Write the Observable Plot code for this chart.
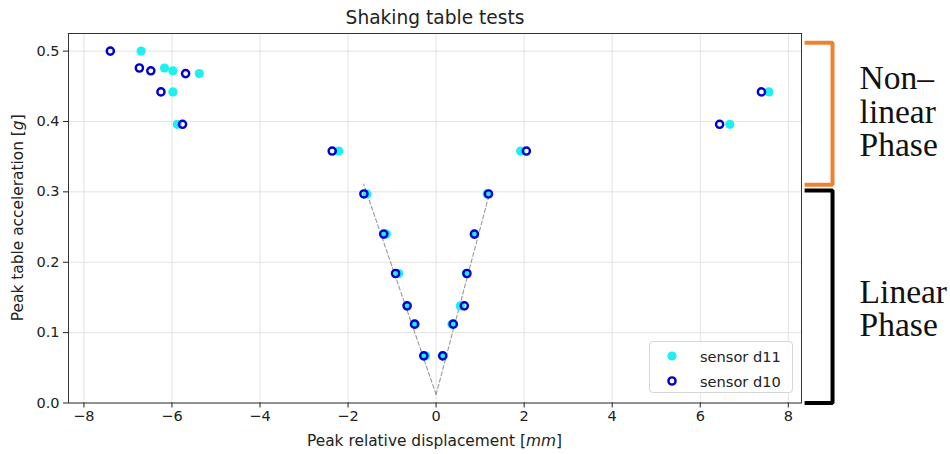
<!DOCTYPE html>
<html>
<head>
<meta charset="utf-8">
<script src="https://cdn.jsdelivr.net/npm/d3@7"></script>
<script src="https://cdn.jsdelivr.net/npm/@observablehq/plot@0.6"></script>
<style>
  html, body { margin: 0; padding: 0; background: #fff; }
  #wrap { position: relative; width: 950px; height: 454px; }
  #legend {
    position: absolute; left: 649px; top: 341px; width: 144px; height: 52px;
    border: 1px solid #d6d6d6; border-radius: 4px; background: rgba(255,255,255,0.85);
    font-family: "DejaVu Sans", sans-serif; font-size: 14.6px; color: #222;
    box-sizing: border-box;
  }
  #legend .row { position: absolute; left: 0; height: 20px; display: flex; align-items: center; }
  #legend svg { position: absolute; left: 14px; }
  #legend span { position: absolute; left: 50px; white-space: nowrap; }
</style>
</head>
<body>
<div id="wrap"></div>
<script>
// ---- data ----
const titleText = "Shaking table tests";
const xTicks = [-8, -6, -4, -2, 0, 2, 4, 6, 8];
const yTicks = [0, 0.1, 0.2, 0.3, 0.4, 0.5];

const accelD11 = [0.5, 0.476, 0.472, 0.468, 0.442, 0.396, 0.358, 0.297, 0.240, 0.184, 0.138, 0.112, 0.067,
                  0.067, 0.112, 0.138, 0.184, 0.240, 0.297, 0.358, 0.396, 0.442];
const dispD11  = [-6.70, -6.17, -5.98, -5.38, -5.98, -5.88, -2.21, -1.57, -1.13, -0.85, -0.65, -0.47, -0.24,
                  0.16, 0.36, 0.55, 0.69, 0.87, 1.16, 1.92, 6.67, 7.56];

const accelD10 = [0.5, 0.476, 0.472, 0.468, 0.442, 0.396, 0.358, 0.297, 0.240, 0.184, 0.138, 0.112, 0.067,
                  0.067, 0.112, 0.138, 0.184, 0.240, 0.297, 0.358, 0.396, 0.442];
const dispD10  = [-7.40, -6.74, -6.48, -5.69, -6.25, -5.76, -2.36, -1.64, -1.19, -0.92, -0.66, -0.49, -0.28,
                  0.15, 0.39, 0.64, 0.70, 0.87, 1.19, 2.05, 6.44, 7.39];

// linear-phase trend lines (dashed)
const fitLeftX = [0, -1.645], fitLeftY = [0.012, 0.311];
const fitRightX = [0, 1.23],  fitRightY = [0.012, 0.302];

// phase brackets
const phaseNames = ["Non–\nlinear\nPhase", "Linear\nPhase"];
const phaseTop = [0.512, 0.302];
const phaseBottom = [0.310, 0.0];
const phaseLabelY = [0.4135, 0.134];
const phaseColors = ["#EE8233", "#000000"];

const seriesNames = ["sensor d11", "sensor d10"];
const colD11 = "#1ef0f0", colD10 = "#0000CD";

// ---- build tables ----
const d11 = dispD11.map((x, i) => ({x, y: accelD11[i]}));
const d10 = dispD10.map((x, i) => ({x, y: accelD10[i]}));
const fitL = fitLeftX.map((x, i) => ({x, y: fitLeftY[i]}));
const fitR = fitRightX.map((x, i) => ({x, y: fitRightY[i]}));
const bx0 = 8.37, bx1 = 9.005, labelX = 9.62;
const brackets = phaseNames.map((n, i) => [
  {x: bx0, y: phaseTop[i], k: i}, {x: bx1, y: phaseTop[i], k: i},
  {x: bx1, y: phaseBottom[i], k: i}, {x: bx0, y: phaseBottom[i], k: i}
]);
const phaseLabels = phaseNames.map((t, i) => ({t, x: labelX, y: phaseLabelY[i]}));

const chart = Plot.plot({
  width: 950, height: 454,
  marginLeft: 68, marginRight: 149, marginTop: 33, marginBottom: 51.5,
  style: {fontFamily: "DejaVu Sans, sans-serif", fontSize: "14.5px", color: "#222", background: "#fff"},
  x: {domain: [-8.35, 8.30]},
  y: {domain: [0, 0.525]},
  marks: [
    Plot.gridX(xTicks, {stroke: "#dcdcdc", strokeOpacity: 1, strokeWidth: 0.8}),
    Plot.gridY(yTicks, {stroke: "#dcdcdc", strokeOpacity: 1, strokeWidth: 0.8}),
    Plot.line(fitL, {x: "x", y: "y", stroke: "#9a9a9a", strokeWidth: 1.1, strokeDasharray: "4,2.5"}),
    Plot.line(fitR, {x: "x", y: "y", stroke: "#9a9a9a", strokeWidth: 1.1, strokeDasharray: "4,2.5"}),
    Plot.dot(d11, {x: "x", y: "y", r: 4.6, fill: colD11, stroke: "none"}),
    Plot.dot(d10, {x: "x", y: "y", r: 3.6, fill: "none", stroke: colD10, strokeWidth: 2.4}),
    Plot.frame({stroke: "#333", strokeWidth: 1}),
    Plot.axisX(xTicks, {tickSize: 5, tickPadding: 3, tickFormat: d3.format(".0f"), label: null, stroke: "#222", fill: "#222"}),
    Plot.axisY(yTicks, {tickSize: 5, tickPadding: 4, tickFormat: d3.format(".1f"), label: null, stroke: "#222", fill: "#222"}),
    ...brackets.map((b, i) => Plot.line(b, {x: "x", y: "y", stroke: phaseColors[i], strokeWidth: 4, strokeLinejoin: "miter", strokeLinecap: "butt"})),
    Plot.text(phaseLabels, {x: "x", y: "y", text: "t", textAnchor: "start", lineAnchor: "middle", lineHeight: 1.0,
      fontFamily: "Liberation Serif, serif", fontSize: 33.5, fill: "#111"}),
    Plot.text([titleText], {frameAnchor: "top", dy: -15, lineAnchor: "middle", fontSize: 18.6, fill: "#222"})
  ]
});

// axis labels with italic units
const svg = d3.select(chart);
const xs = chart.scale("x"), ys = chart.scale("y");
const cx = (xs.range[0] + xs.range[1]) / 2;
const cy = (ys.range[0] + ys.range[1]) / 2;
const xl = svg.append("text").attr("x", cx).attr("y", 446).attr("text-anchor", "middle")
  .attr("font-size", 15.4).attr("fill", "#222");
xl.append("tspan").text("Peak relative displacement [");
xl.append("tspan").attr("font-style", "italic").text("mm");
xl.append("tspan").text("]");
const yl = svg.append("text").attr("transform", `translate(23,${cy}) rotate(-90)`).attr("text-anchor", "middle")
  .attr("font-size", 15.4).attr("fill", "#222");
yl.append("tspan").text("Peak table acceleration [");
yl.append("tspan").attr("font-style", "italic").text("g");
yl.append("tspan").text("]");

const wrap = document.getElementById("wrap");
wrap.appendChild(chart);

// legend
const legend = document.createElement("div");
legend.id = "legend";
seriesNames.forEach((name, i) => {
  const row = document.createElement("div");
  row.className = "row";
  row.style.top = (4 + i * 25) + "px";
  row.style.width = "100%";
  row.innerHTML = `<svg width="16" height="20" viewBox="0 0 16 20">${
    i === 0 ? `<circle cx="8" cy="10" r="4.6" fill="${colD11}"/>`
            : `<circle cx="8" cy="10" r="3.6" fill="none" stroke="${colD10}" stroke-width="2.4"/>`
  }</svg><span>${name}</span>`;
  legend.appendChild(row);
});
wrap.appendChild(legend);
</script>
</body>
</html>
